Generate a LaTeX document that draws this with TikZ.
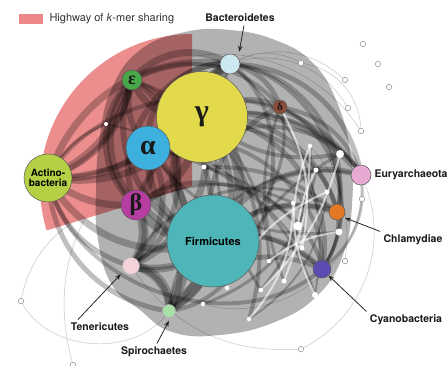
\documentclass[tikz,border=0pt]{standalone}
\usepackage{fontspec}
\setmainfont{TeX Gyre Heros}
\newfontfamily\grk{Liberation Serif}
\usetikzlibrary{arrows.meta}
\definecolor{pinkc}{RGB}{236,136,136}
\definecolor{gamc}{RGB}{226,218,74}
\definecolor{alpc}{RGB}{62,176,222}
\definecolor{epsc}{RGB}{72,168,72}
\definecolor{bacc}{RGB}{206,232,242}
\definecolor{delc}{RGB}{140,76,60}
\definecolor{actc}{RGB}{182,208,70}
\definecolor{betc}{RGB}{182,62,162}
\definecolor{firc}{RGB}{78,182,184}
\definecolor{tenc}{RGB}{244,210,218}
\definecolor{spic}{RGB}{168,222,168}
\definecolor{eurc}{RGB}{232,170,210}
\definecolor{chlc}{RGB}{226,122,36}
\definecolor{cyac}{RGB}{92,76,178}
\begin{document}
\begin{tikzpicture}[x=1pt,y=-1pt,
  edge/.style={draw=black,draw opacity=0.25,line cap=round},
  wline/.style={draw=white,draw opacity=0.6,line width=2pt},
  faint/.style={draw=black!22,line width=0.5pt},
  taxon/.style={circle,draw=black!65,line width=0.5pt,inner sep=0pt},
  wdot/.style={circle,fill=white,inner sep=0pt,minimum size=#1},
  odot/.style={circle,draw=black!45,fill=white,line width=0.5pt,inner sep=0pt,minimum size=5.5pt},
  lbl/.style={font=\bfseries\fontsize{10.5}{12}\selectfont,text=black!90},
  grklbl/.style={font=\grk\bfseries\fontsize{#1}{#1}\selectfont,text=black!90},
  arr/.style={-{Stealth[length=6pt,width=4.5pt]},line width=0.8pt,black!85}]
\useasboundingbox (0,0) rectangle (448,365);
% coordinates
\coordinate (g) at (202,117);
\coordinate (a) at (148,148);
\coordinate (e) at (132,80);
\coordinate (bd) at (230,64);
\coordinate (d) at (280,107);
\coordinate (ac) at (48,178);
\coordinate (b) at (136,205);
\coordinate (f) at (213,241);
\coordinate (t) at (131,266);
\coordinate (s) at (169,311);
\coordinate (eu) at (361,175);
\coordinate (ch) at (337,212);
\coordinate (cy) at (322,269);
\coordinate (w1) at (106,124);
\coordinate (w2) at (204,167);
\coordinate (w3) at (310,146);
\coordinate (w4) at (340,154);
\coordinate (w5) at (316,170);
\coordinate (w6) at (327,192);
\coordinate (w7) at (293,203);
\coordinate (w8) at (298,226);
\coordinate (w9) at (339,232);
\coordinate (w10) at (302,248);
\coordinate (w11) at (269,261);
\coordinate (w12) at (284,281);
\coordinate (w13) at (261,290);
\coordinate (w14) at (315,295);
\coordinate (w15) at (227,288);
\coordinate (w16) at (249,319);
\coordinate (w17) at (203,304);
\coordinate (o1) at (363,44);
\coordinate (o2) at (378,64);
\coordinate (o3) at (389,87);
\coordinate (o4) at (301,63);
\coordinate (o5) at (345,80);
\coordinate (o6) at (348,108);
\coordinate (o7) at (361,131);
\coordinate (o8) at (362,199);
\coordinate (o9) at (345,261);
\coordinate (o10) at (301,349);
\coordinate (o11) at (21,301);
\coordinate (o12) at (73,365);
% legend
\fill[pinkc] (19,14) rectangle (43,24);
\node[anchor=west,font=\fontsize{11}{12}\selectfont,text=black!80] (leg) at (46,19) {Highway of \textit{k}-mer sharing};
% faint outer curves
\draw[faint] (o11) to[bend left=40] (b);
\draw[faint] (o12) to[bend left=35] (a);
\draw[faint] (o10) to[bend right=45] (eu);
\draw[faint] (o9) to[bend right=25] (w3);
\draw[faint] (w17) to[bend right=50] (o8);
\draw[faint] (bd) to[bend left=30] (o4);
\draw[faint] (bd) to[bend left=35] (o5);
\draw[faint] (bd) to[bend left=40] (o6);
\draw[faint] (e) to[bend left=45] (o7);
\draw[faint] (o4) to[bend left=40] (o7);
\draw[faint] (t) to[bend right=30] (o10);
\draw[faint] (o11) to[bend right=60] (s);
% pink highway
\fill[pinkc,opacity=0.95] (192,186) -- ([shift={(192,186)}]270:152) arc[start angle=270,end angle=163,radius=152] -- cycle;
% base mass
\fill[black,opacity=0.3] plot[smooth cycle,tension=0.75] coordinates {(230,30) (275,40) (312,62) (336,100) (350,150) (352,205) (343,255) (318,295) (275,322) (220,335) (172,332) (140,310) (112,285) (98,240) (96,190) (100,135) (112,88) (140,50) (185,32)};
% edges
\foreach \p/\q/\w/\bb in {
 g/f/10/60, g/f/7/-70, g/b/8/30, g/a/6/20, g/e/7/40, g/bd/8/30, g/d/6/30, g/eu/6/30, g/ch/5/40, g/cy/5/50, g/t/7/40, g/s/6/50, g/ac/7/30,
 f/b/9/30, f/a/7/40, f/e/6/50, f/bd/7/60, f/d/5/40, f/eu/6/40, f/ch/6/30, f/cy/5/30, f/t/8/30, f/s/7/30, f/ac/7/40,
 a/b/7/30, a/e/6/30, a/bd/6/50, a/t/6/40, a/s/6/40, a/ac/7/20, a/ch/4/60, a/eu/4/50, a/cy/4/60,
 b/t/7/40, b/s/6/50, b/ac/7/20, b/e/6/50, b/bd/6/60, b/cy/4/60, b/eu/4/70,
 e/bd/7/40, e/ac/6/30, e/t/5/60, e/d/4/40, e/s/5/60,
 bd/d/5/30, bd/eu/5/40, bd/ch/4/50, bd/s/4/70, bd/cy/4/60,
 d/eu/4/30, d/cy/3/50, d/ch/3/40, d/t/3/60,
 t/s/7/40, s/cy/5/40, t/cy/4/40, s/ch/4/50, t/ch/3/50, s/eu/3/50, ac/eu/4/60, ac/cy/4/-60, ac/bd/7/40, ac/s/5/-40, ac/t/5/-30, eu/cy/3/30, ch/cy/3/20,
 w3/w13/3/20, w4/w15/3/-20, w6/w16/2/25, w8/w2/3/-15, w5/w17/3/30, w10/w1/2/-20, w12/d/3/20, w14/bd/2/-30,
 w1/ac/3/-20, w2/ch/4/20, w7/b/3/-25, w9/a/3/30, w11/e/3/-35, w13/bd/3/25, w16/g/4/-30,
 ac/e/8/-25, ac/bd/5/-30, e/b/7/-40, t/b/8/-30, s/t/8/-50, bd/g/9/-40, w4/g/4/25, w14/a/3/-30}
 \draw[edge,line width=\w pt] (\p) to[bend left=\bb] (\q);
% white streaks
\draw[wline] (w4) to[bend left=15] (w13);
\draw[wline] (w6) to[bend right=20] (w15);
\draw[wline] (w3) to[bend left=10] (w12);
\draw[wline] (w9) to[bend right=15] (w11);
\draw[wline] (d) to[bend left=20] (w10);
\draw[wline] (w7) to[bend left=20] (w16);
\draw[wline] (w5) to[bend right=10] (w8);
\draw[wline] (w3) to[bend right=25] (w14);
% dots
\foreach \n/\sz in {w1/4pt,w2/5pt,w3/4.5pt,w4/8pt,w5/5pt,w6/5pt,w7/4.5pt,w8/9pt,w9/7pt,w10/5pt,w11/4.5pt,w12/5pt,w13/4.5pt,w14/6pt,w15/4.5pt,w16/4.5pt,w17/4.5pt}
 \node[wdot=\sz] (n\n) at (\n) {};
\foreach \n in {o1,o2,o3,o4,o5,o6,o7,o8,o9,o10,o11,o12}
 \node[odot] (n\n) at (\n) {};
% taxa
\node[taxon,fill=gamc,minimum size=91pt] (gn) at (g) {};
\node[grklbl=30] at (g) {γ};
\node[taxon,fill=alpc,minimum size=44pt] (an) at (a) {};
\node[grklbl=28] at (a) {α};
\node[taxon,fill=epsc,minimum size=20pt] (en) at (e) {};
\node[grklbl=18] at (e) {ε};
\node[taxon,fill=bacc,minimum size=20pt] (bdn) at (bd) {};
\node[taxon,fill=delc,minimum size=14pt] (dn) at (d) {};
\node[grklbl=11] at (d) {δ};
\node[taxon,fill=actc,minimum size=48pt,align=center,font=\bfseries\fontsize{10}{10.5}\selectfont] (acn) at (ac) {Actino-\\bacteria};
\node[taxon,fill=betc,minimum size=30pt] (bn) at (b) {};
\node[grklbl=24] at (b) {β};
\node[taxon,fill=firc,minimum size=92pt,font=\bfseries\fontsize{11}{12}\selectfont] (fn) at (f) {Firmicutes};
\node[taxon,fill=tenc,minimum size=17pt,draw=black!30] (tn) at (t) {};
\node[taxon,fill=spic,minimum size=13pt,draw=black!30] (sn) at (s) {};
\node[taxon,fill=eurc,minimum size=20pt] (eun) at (eu) {};
\node[taxon,fill=chlc,minimum size=16pt] (chn) at (ch) {};
\node[taxon,fill=cyac,minimum size=18pt] (cyn) at (cy) {};
% labels
\node[lbl] (bdl) at (240,18) {Bacteroidetes};
\node[lbl,anchor=west] (eul) at (371,175) {Euryarchaeota};
\node[lbl] (chl) at (413,240) {Chlamydiae};
\node[lbl] (cyl) at (406,320) {Cyanobacteria};
\node[lbl] (tel) at (100,327) {Tenericutes};
\node[lbl] (spl) at (154,352) {Spirochaetes};
\draw[arr] ([xshift=4pt]bdl.south) -- ([shift={(2pt,5pt)}]bdn.north east);
\draw[arr] (chl.north west) -- ([xshift=2pt]chn.south east);
\draw[arr] (cyl.north west) -- (cyn.south east);
\draw[arr] ([xshift=-22pt]tel.north) -- ([shift={(-4pt,-2pt)}]tn.south west);
\draw[arr] ([xshift=3pt]spl.north) -- ([yshift=-3pt]sn.south);
\end{tikzpicture}
\end{document}
